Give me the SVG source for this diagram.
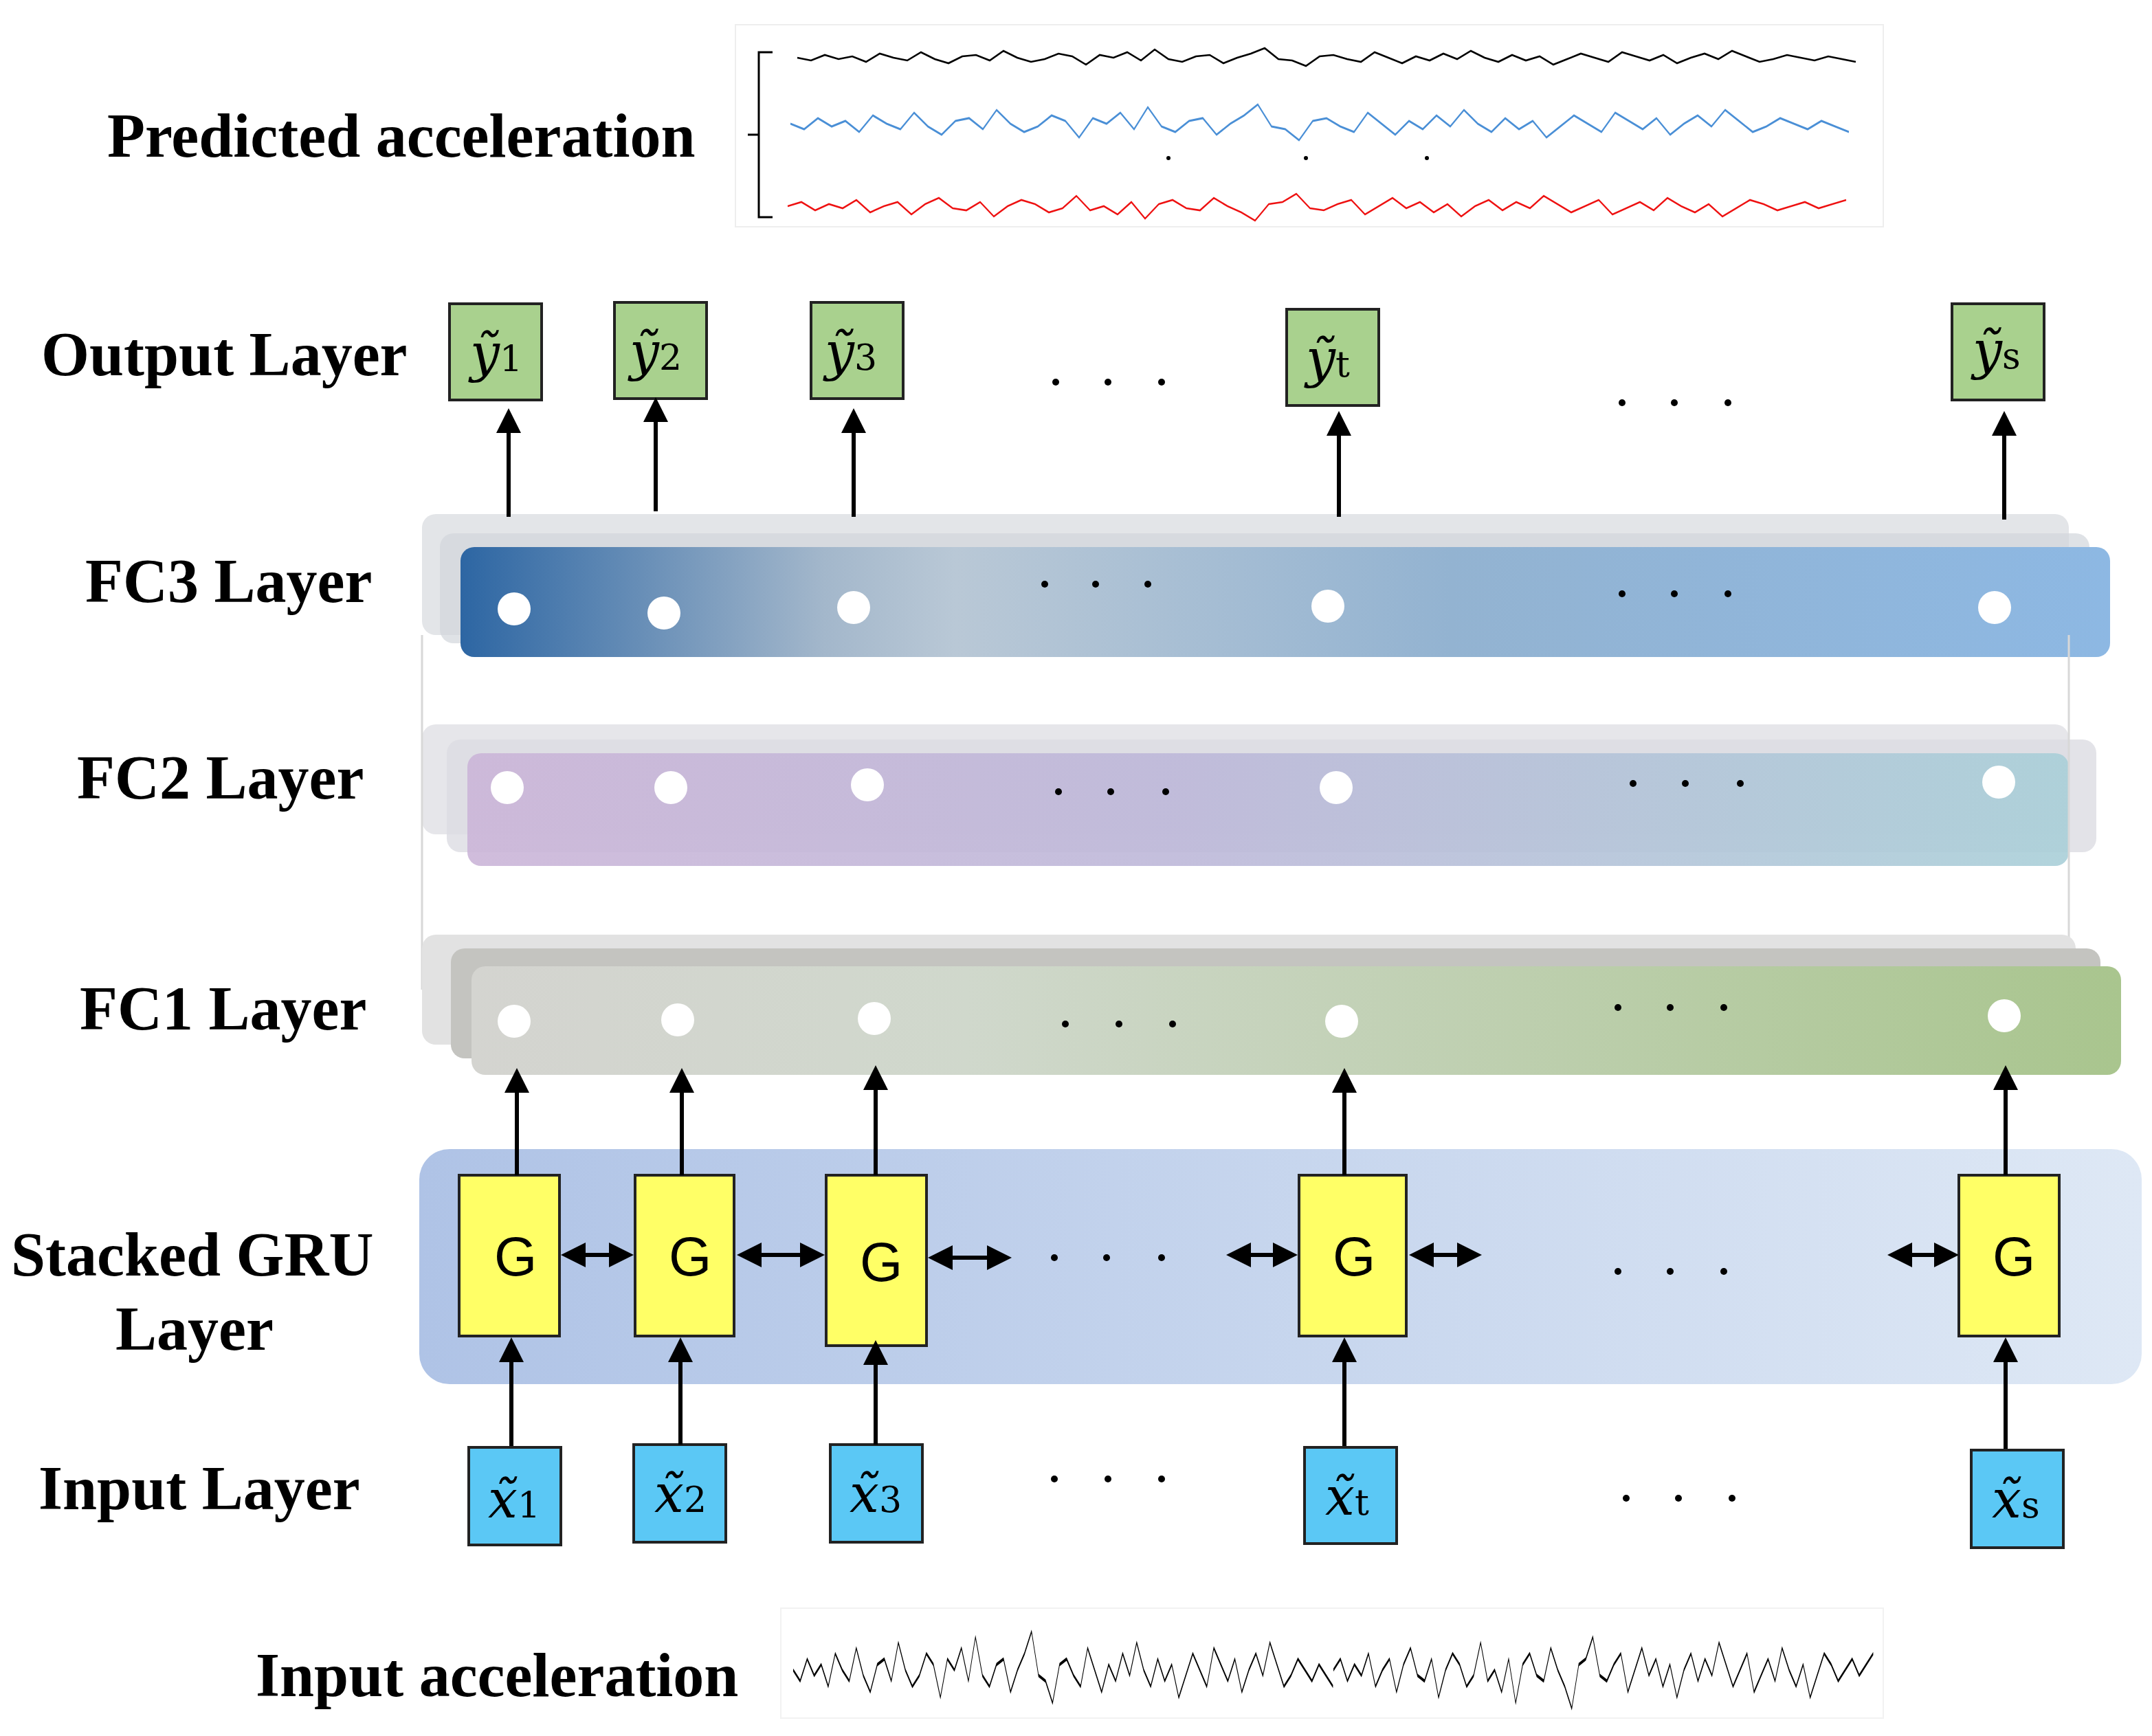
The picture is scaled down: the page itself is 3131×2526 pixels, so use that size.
<svg xmlns="http://www.w3.org/2000/svg" width="3131" height="2526" viewBox="0 0 3131 2526">
<style>
.lbl{font-family:"Liberation Serif",serif;font-weight:bold;font-size:45px;fill:#000}
.m{font-family:"DejaVu Serif","Liberation Serif",serif;font-style:italic;font-size:38px;fill:#000}
.sub{font-size:26px;font-style:normal}
.ob{fill:#a9d18e;stroke:#222;stroke-width:2}
.ib{fill:#5bc8f5;stroke:#222;stroke-width:2}
.gb{fill:#ffff66;stroke:#222;stroke-width:2}
.g{font-family:"Liberation Sans",Arial,sans-serif;font-size:40px;text-anchor:middle}
.c{fill:#fff}
.ar{stroke:#000;stroke-width:3;fill:none;marker-end:url(#ah)}
.da{stroke:#000;stroke-width:3;fill:none;marker-end:url(#ah);marker-start:url(#ahs)}
.dot{fill:#000}
</style>
<defs>
<marker id="ah" markerWidth="6" markerHeight="6" refX="5" refY="3" orient="auto" markerUnits="strokeWidth"><path d="M0,0L6,3L0,6z" fill="#000"/></marker>
<marker id="ahs" markerWidth="6" markerHeight="6" refX="1" refY="3" orient="auto" markerUnits="strokeWidth"><path d="M6,0L0,3L6,6z" fill="#000"/></marker>
<linearGradient id="fc3" x1="0" x2="1"><stop offset="0" stop-color="#2d66a3"/><stop offset="0.22" stop-color="#a3b7cb"/><stop offset="0.3" stop-color="#b9c8d6"/><stop offset="0.6" stop-color="#93b3d1"/><stop offset="1" stop-color="#8db8e3"/></linearGradient>
<linearGradient id="fc2" x1="0" x2="1"><stop offset="0" stop-color="#cbb5d8"/><stop offset="0.45" stop-color="#bdb8d9"/><stop offset="1" stop-color="#a9cfd8"/></linearGradient>
<linearGradient id="fc1" x1="0" x2="1"><stop offset="0" stop-color="#d4d4d0"/><stop offset="0.3" stop-color="#d0d8cc"/><stop offset="1" stop-color="#a9c58e"/></linearGradient>
<linearGradient id="gru" x1="0" x2="1"><stop offset="0" stop-color="#afc3e6"/><stop offset="1" stop-color="#dee8f5"/></linearGradient>
<path id="sig" fill="none" d="M0,0 L10,2 20,-2 30,1 40,-1 50,3 60,-3 70,0 80,2 90,-4 100,1 110,4 120,-1 130,-2 140,2 150,-5 160,0 170,3 180,1 190,-3 200,-1 210,5 220,-2 230,0 240,-4 250,2 260,-6 270,1 280,3 290,-1 300,-2 310,4 320,0 330,-3 340,-7 350,1 360,2 370,6 380,-1 390,-2 400,1 410,3 420,-4 430,0 440,4 450,-1 460,2 470,-3 480,1 490,-5 500,0 510,3 520,-2 530,2 540,-1 550,5 560,1 570,-3 580,0 590,3 600,-4 610,-1 620,2 630,-2 640,4 650,0 660,-3 670,1 680,-5 690,-1 700,3 710,1 720,-2 730,0 740,2 750,-1 760,1 770,3"/>
</defs>
<rect width="3131" height="2526" fill="#fff"/>
<g transform="scale(2)">
<g id="predicted">
<rect x="535" y="18" width="835" height="147" fill="#fff" stroke="#eee"/>
<path d="M562,38 H552 V158 H562 M552,98 H544" fill="none" stroke="#000" stroke-width="1.5"/>
<use href="#sig" transform="translate(580,42)" stroke="#000" stroke-width="1.3"/>
<use href="#sig" transform="translate(575,90) scale(1,2)" stroke="#4a8fd6" stroke-width="0.8"/>
<use href="#sig" transform="translate(573,150) scale(1,-1.5)" stroke="#ee1111" stroke-width="0.9"/>
<circle cx="850" cy="115" r="1.5" class="dot"/><circle cx="950" cy="115" r="1.5" class="dot"/><circle cx="1038" cy="115" r="1.5" class="dot"/>
<text class="lbl" x="78" y="114">Predicted acceleration</text>
</g>
<g id="labels">
<text class="lbl" x="30" y="273">Output Layer</text>
<text class="lbl" x="62" y="438">FC3 Layer</text>
<text class="lbl" x="56" y="581">FC2 Layer</text>
<text class="lbl" x="58" y="749">FC1 Layer</text>
<text class="lbl" x="8" y="928">Stacked GRU</text>
<text class="lbl" x="84" y="982">Layer</text>
<text class="lbl" x="28" y="1098">Input Layer</text>
<text class="lbl" x="186" y="1234">Input acceleration</text>
</g>
<g id="fc3">
<rect x="307" y="374" width="1198" height="88" rx="10" fill="#e3e5e8"/>
<rect x="320" y="388" width="1200" height="80" rx="10" fill="#d2d6dc" opacity="0.7"/>
<rect x="335" y="398" width="1200" height="80" rx="10" fill="url(#fc3)"/>
<circle class="c" cx="374" cy="443" r="12"/><circle class="c" cx="483" cy="446" r="12"/><circle class="c" cx="621" cy="442" r="12"/><circle class="c" cx="966" cy="441" r="12"/><circle class="c" cx="1451" cy="442" r="12"/>
</g>
<g id="fc2">
<rect x="307" y="527" width="1198" height="80" rx="10" fill="#e6e6ea"/>
<rect x="325" y="538" width="1200" height="82" rx="10" fill="#dcdce2" opacity="0.8"/>
<rect x="340" y="548" width="1165" height="82" rx="10" fill="url(#fc2)" opacity="0.9"/>
<circle class="c" cx="369" cy="573" r="12"/><circle class="c" cx="488" cy="573" r="12"/><circle class="c" cx="631" cy="571" r="12"/><circle class="c" cx="972" cy="573" r="12"/><circle class="c" cx="1454" cy="569" r="12"/>
</g>
<path d="M307,462 V720 M1505,462 V700" stroke="#d8d8d8" stroke-width="1.5"/>
<g id="fc1">
<rect x="307" y="680" width="1203" height="80" rx="10" fill="#e2e2e2"/>
<rect x="328" y="690" width="1200" height="80" rx="10" fill="#c4c4c0"/>
<rect x="343" y="703" width="1200" height="79" rx="10" fill="url(#fc1)"/>
<circle class="c" cx="374" cy="743" r="12"/><circle class="c" cx="493" cy="742" r="12"/><circle class="c" cx="636" cy="741" r="12"/><circle class="c" cx="976" cy="743" r="12"/><circle class="c" cx="1458" cy="739" r="12"/>
</g>
<g id="gru">
<rect x="305" y="836" width="1253" height="171" rx="22" fill="url(#gru)"/>
<rect class="gb" x="334" y="855" width="73" height="117"/><text class="g" x="375" y="928">G</text>
<rect class="gb" x="462" y="855" width="72" height="117"/><text class="g" x="502" y="928">G</text>
<rect class="gb" x="601" y="855" width="73" height="124"/><text class="g" x="641" y="932">G</text>
<rect class="gb" x="945" y="855" width="78" height="117"/><text class="g" x="985" y="928">G</text>
<rect class="gb" x="1425" y="855" width="73" height="117"/><text class="g" x="1465" y="928">G</text>
</g>
<g id="outputs">
<rect class="ob" x="327" y="221" width="67" height="70"/><text class="m" x="342" y="270">y&#771;<tspan class="sub">1</tspan></text>
<rect class="ob" x="447" y="220" width="67" height="70"/><text class="m" x="458" y="269">y&#771;<tspan class="sub">2</tspan></text>
<rect class="ob" x="590" y="220" width="67" height="70"/><text class="m" x="600" y="269">y&#771;<tspan class="sub">3</tspan></text>
<rect class="ob" x="936" y="225" width="67" height="70"/><text class="m" x="950" y="274">y&#771;<tspan class="sub">t</tspan></text>
<rect class="ob" x="1420" y="221" width="67" height="70"/><text class="m" x="1435" y="268">y&#771;<tspan class="sub">s</tspan></text>
</g>
<g id="inputs">
<rect class="ib" x="341" y="1053" width="67" height="71"/><text class="m" x="355" y="1104">x&#771;<tspan class="sub">1</tspan></text>
<rect class="ib" x="461" y="1051" width="67" height="71"/><text class="m" x="476" y="1100">x&#771;<tspan class="sub">2</tspan></text>
<rect class="ib" x="604" y="1051" width="67" height="71"/><text class="m" x="618" y="1100">x&#771;<tspan class="sub">3</tspan></text>
<rect class="ib" x="949" y="1053" width="67" height="70"/><text class="m" x="964" y="1102">x&#771;<tspan class="sub">t</tspan></text>
<rect class="ib" x="1434" y="1055" width="67" height="71"/><text class="m" x="1449" y="1104">x&#771;<tspan class="sub">s</tspan></text>
</g>
<g id="input-signal">
<rect x="568" y="1170" width="802" height="80" fill="#fff" stroke="#f2f2f2"/>
<use href="#sig" transform="translate(577,1215) scale(0.51,4)" stroke="#000" stroke-width="0.6"/>
<use href="#sig" transform="translate(970,1215) scale(0.51,-4)" stroke="#000" stroke-width="0.6"/>
</g>
<g id="ellipses" class="dot">
<circle cx="768" cy="278" r="2.5"/><circle cx="806" cy="278" r="2.5"/><circle cx="845" cy="278" r="2.5"/>
<circle cx="1180" cy="293" r="2.5"/><circle cx="1218" cy="293" r="2.5"/><circle cx="1257" cy="293" r="2.5"/>
<circle cx="760" cy="425" r="2.5"/><circle cx="797" cy="425" r="2.5"/><circle cx="835" cy="425" r="2.5"/>
<circle cx="1180" cy="432" r="2.5"/><circle cx="1218" cy="432" r="2.5"/><circle cx="1257" cy="432" r="2.5"/>
<circle cx="770" cy="576" r="2.5"/><circle cx="808" cy="576" r="2.5"/><circle cx="848" cy="576" r="2.5"/>
<circle cx="1188" cy="570" r="2.5"/><circle cx="1226" cy="570" r="2.5"/><circle cx="1266" cy="570" r="2.5"/>
<circle cx="775" cy="745" r="2.5"/><circle cx="814" cy="745" r="2.5"/><circle cx="853" cy="745" r="2.5"/>
<circle cx="1177" cy="733" r="2.5"/><circle cx="1215" cy="733" r="2.5"/><circle cx="1254" cy="733" r="2.5"/>
<circle cx="767" cy="915" r="2.5"/><circle cx="805" cy="915" r="2.5"/><circle cx="845" cy="915" r="2.5"/>
<circle cx="1177" cy="925" r="2.5"/><circle cx="1215" cy="925" r="2.5"/><circle cx="1254" cy="925" r="2.5"/>
<circle cx="767" cy="1076" r="2.5"/><circle cx="806" cy="1076" r="2.5"/><circle cx="845" cy="1076" r="2.5"/>
<circle cx="1183" cy="1090" r="2.5"/><circle cx="1221" cy="1090" r="2.5"/><circle cx="1260" cy="1090" r="2.5"/>
</g>
<g id="connectors">
<path class="ar" d="M370,376V300"/><path class="ar" d="M477,372V292"/><path class="ar" d="M621,376V300"/><path class="ar" d="M974,376V302"/><path class="ar" d="M1458,378V302"/>
<path class="ar" d="M376,855V780"/><path class="ar" d="M496,855V780"/><path class="ar" d="M637,855V778"/><path class="ar" d="M978,855V780"/><path class="ar" d="M1459,855V778"/>
<path class="ar" d="M372,1052V976"/><path class="ar" d="M495,1051V976"/><path class="ar" d="M637,1051V978"/><path class="ar" d="M978,1052V976"/><path class="ar" d="M1459,1054V976"/>
<path class="da" d="M411,913H458"/><path class="da" d="M539,913H597"/><path class="da" d="M678,915H733"/><path class="da" d="M895,913H941"/><path class="da" d="M1028,913H1075"/><path class="da" d="M1376,913H1422"/>
</g>
</g>
</svg>
